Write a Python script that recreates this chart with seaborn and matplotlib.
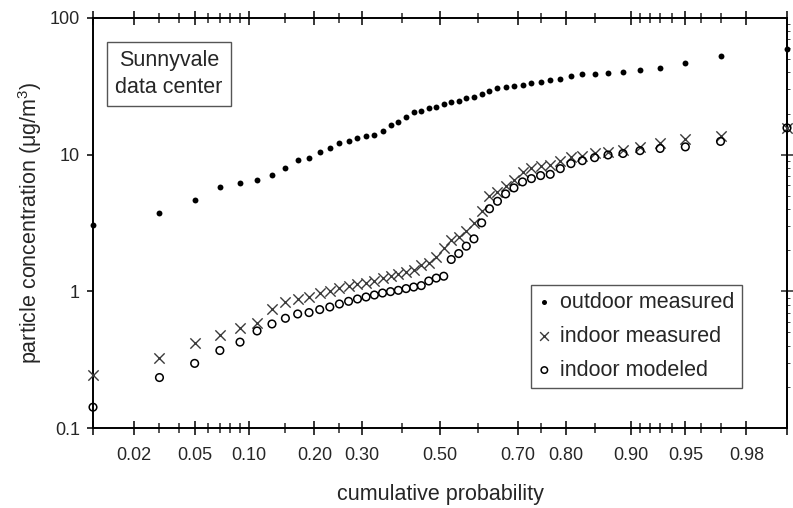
import numpy as np
import pandas as pd
import matplotlib
matplotlib.use("Agg")
import matplotlib.pyplot as plt
import seaborn as sns
from statistics import NormalDist
from matplotlib.ticker import FixedLocator, FixedFormatter

# ---------------- data ----------------
prob = [0.01, 0.03, 0.05, 0.07, 0.09, 0.11, 0.13, 0.15, 0.17, 0.19,
        0.21, 0.23, 0.25, 0.27, 0.29, 0.31, 0.33, 0.35, 0.37, 0.39,
        0.41, 0.43, 0.45, 0.47, 0.49, 0.51, 0.53, 0.55, 0.57, 0.59,
        0.61, 0.63, 0.65, 0.67, 0.69, 0.71, 0.73, 0.75, 0.77, 0.79,
        0.81, 0.83, 0.85, 0.87, 0.89, 0.91, 0.93, 0.95, 0.97, 0.99]

outdoor_measured = [3.05, 3.77, 4.67, 5.77, 6.25, 6.49, 7.14, 8.04, 9.09, 9.46,
                    10.5, 11.2, 12.1, 12.6, 13.3, 13.7, 13.9, 14.9, 16.4, 17.3,
                    18.9, 20.4, 21.0, 21.8, 22.4, 23.3, 24.1, 24.7, 25.8, 26.5,
                    27.7, 29.2, 30.5, 31.2, 31.7, 32.6, 33.5, 34.3, 35.1, 35.9,
                    37.5, 38.6, 38.8, 39.7, 40.3, 41.5, 43.2, 46.7, 52.5, 59.1]

indoor_measured = [0.244, 0.323, 0.417, 0.483, 0.543, 0.587, 0.739, 0.836, 0.874, 0.909,
                   0.97, 1.01, 1.057, 1.093, 1.125, 1.157, 1.197, 1.244, 1.29, 1.337,
                   1.383, 1.43, 1.548, 1.62, 1.79, 2.06, 2.36, 2.51, 2.76, 3.14,
                   3.85, 4.99, 5.31, 5.94, 6.57, 7.42, 8.0, 8.31, 8.45, 9.04,
                   9.62, 9.72, 10.2, 10.4, 10.8, 11.4, 12.2, 13.0, 13.8, 15.7]

indoor_modeled = [0.142, 0.234, 0.297, 0.369, 0.425, 0.513, 0.577, 0.635, 0.683, 0.699,
                  0.735, 0.768, 0.808, 0.845, 0.879, 0.909, 0.940, 0.972, 0.995, 1.017,
                  1.047, 1.075, 1.101, 1.19, 1.25, 1.29, 1.71, 1.89, 2.14, 2.42,
                  3.17, 4.02, 4.56, 5.16, 5.71, 6.32, 6.68, 7.03, 7.18, 7.90,
                  8.60, 9.04, 9.51, 9.95, 10.2, 10.7, 11.1, 11.4, 12.5, 15.7]

x_major = [0.01, 0.02, 0.05, 0.10, 0.20, 0.30, 0.50, 0.70, 0.80, 0.90, 0.95, 0.98, 0.99]
x_major_labels = ["", "0.02", "0.05", "0.10", "0.20", "0.30", "0.50", "0.70", "0.80",
                  "0.90", "0.95", "0.98", ""]
x_minor = [0.03, 0.04, 0.06, 0.07, 0.08, 0.09, 0.15, 0.25, 0.40, 0.60, 0.75, 0.85,
           0.91, 0.92, 0.93, 0.94, 0.96, 0.97]
y_ticks = [0.1, 1, 10, 100]
y_tick_labels = ["0.1", "1", "10", "100"]

series_names = ["outdoor measured", "indoor measured", "indoor modeled"]

# ---------------- style ----------------
sns.set_style("white")
plt.rcParams["font.family"] = ["Liberation Sans", "DejaVu Sans"]
plt.rcParams["mathtext.fontset"] = "custom"
plt.rcParams["mathtext.rm"] = "Liberation Sans"
plt.rcParams["mathtext.it"] = "Liberation Sans:italic"
plt.rcParams["mathtext.default"] = "regular"

_nd = NormalDist()
_ppf = np.vectorize(_nd.inv_cdf, otypes=[float])
_cdf = np.vectorize(_nd.cdf, otypes=[float])


def fwd(p):
    p = np.clip(np.asarray(p, dtype=float), 1e-9, 1 - 1e-9)
    return _ppf(p)


def inv(z):
    return _cdf(np.asarray(z, dtype=float))


df = pd.DataFrame({"p": prob, "outdoor": outdoor_measured,
                   "indoor": indoor_measured, "model": indoor_modeled})

fig = plt.figure(figsize=(7.93, 5.08), dpi=100)
ax = fig.add_axes([0.11728, 0.15748, 0.87515, 0.80709])

ax.set_xscale("function", functions=(fwd, inv))
ax.set_yscale("log")

sns.scatterplot(data=df, x="p", y="outdoor", ax=ax, marker="o", s=18,
                color="black", linewidth=0, label=series_names[0],
                clip_on=False, zorder=4)
sns.scatterplot(data=df, x="p", y="indoor", ax=ax, marker="x", s=55,
                color="#3a3a3a", linewidth=1.0, label=series_names[1],
                clip_on=False, zorder=3)
sns.scatterplot(data=df, x="p", y="model", ax=ax, marker="o", s=30,
                color="black", facecolor="none", edgecolor="black", linewidth=1.1,
                label=series_names[2], clip_on=False, zorder=3)

ax.set_xlim(0.01, 0.99)
ax.set_ylim(0.1, 100)

# x ticks (normal-probability scale)
ax.xaxis.set_major_locator(FixedLocator(x_major))
ax.xaxis.set_major_formatter(FixedFormatter(x_major_labels))
ax.xaxis.set_minor_locator(FixedLocator(x_minor))
ax.tick_params(axis="x", which="major", direction="inout", length=10.5, width=1.1,
               top=True, bottom=True, labelsize=13, pad=8.5, color="black")
ax.tick_params(axis="x", which="minor", direction="inout", length=7, width=1.1,
               top=True, bottom=True)

# y ticks (left: outward, right: crossing)
ax.yaxis.set_major_locator(FixedLocator(y_ticks))
ax.yaxis.set_major_formatter(FixedFormatter(y_tick_labels))
ax.yaxis.set_minor_locator(FixedLocator([]))
ax.tick_params(axis="y", which="major", direction="out", length=4.5, width=1.1,
               left=True, right=False, labelsize=13, pad=5, color="black")
sec = ax.secondary_yaxis("right")
sec.set_yticks([1, 10])
sec.tick_params(axis="y", direction="inout", length=9, width=1.1, labelright=False)
sec.spines["right"].set_linewidth(1.4)

for sp in ax.spines.values():
    sp.set_color("black")
    sp.set_linewidth(1.4)

ax.set_xlabel("cumulative probability", fontsize=15.5, labelpad=14)
ax.set_ylabel("particle concentration (μg/m$^3$)", fontsize=15.5, labelpad=4)

leg = ax.legend(loc="upper left", bbox_to_anchor=(531 / 793, 1 - 285 / 508),
                bbox_transform=fig.transFigure, borderaxespad=0, fontsize=15.5,
                frameon=True, fancybox=False, framealpha=1, edgecolor="#555555",
                handlelength=0.6, handletextpad=0.45, labelspacing=0.6,
                borderpad=0.32, markerscale=0.85)
leg.get_frame().set_linewidth(1.0)

fig.text(169 / 793, 1 - 74 / 508, "Sunnyvale\ndata center", fontsize=15.5,
         ha="center", va="center", linespacing=1.4,
         bbox=dict(boxstyle="square,pad=0.38", facecolor="white",
                   edgecolor="#555555", linewidth=1.0))

fig.savefig("out.png", dpi=100)
